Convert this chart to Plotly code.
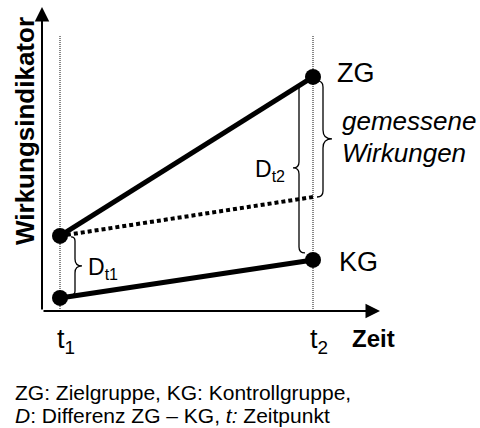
import plotly.graph_objects as go

# ---- data ----
times = [1, 2]
time_labels = ["t<sub>1</sub>", "t<sub>2</sub>"]
zg_values = [24.7, 77.0]          # Zielgruppe
kg_values = [4.3, 16.8]           # Kontrollgruppe
zg_expected = [24.7, 37.5]        # ZG ohne Maßnahme (kontrafaktisch)
y_label = "Wirkungsindikator"
x_label = "Zeit"
caption_lines = ["ZG: Zielgruppe, KG: Kontrollgruppe,",
                 "<i>D</i>: Differenz ZG – KG, <i>t:</i> Zeitpunkt"]

# ---- geometry (layout) ----
W, H = 480, 428
ML, MR, MT, MB = 42, 100, 7, 117
PW, PH = W - ML - MR, H - MT - MB
X_RANGE = [times[0] - 18 / 253, times[0] + 320 / 253]
Y_RANGE = [0, 100]
PX_X = PW / (X_RANGE[1] - X_RANGE[0])
PX_Y = PH / (Y_RANGE[1] - Y_RANGE[0])
GUIDE_TOP = 90.8

def dx(p):
    return p / PX_X

def dy(p):
    return p / PX_Y

def paper_x(p):
    return (p - ML) / PW

def paper_y(p):
    return (H - MB - p) / PH

FONT = "Arial, Liberation Sans, sans-serif"

fig = go.Figure()

# vertical guides
for t in times:
    fig.add_trace(go.Scatter(x=[t, t], y=[Y_RANGE[0], GUIDE_TOP], mode="lines",
                             line=dict(color="#111", width=1, dash="1px,1px"),
                             hoverinfo="skip", showlegend=False))

# expected line
fig.add_trace(go.Scatter(x=times, y=zg_expected, mode="lines",
                         line=dict(color="black", width=4, dash="4px,3px"),
                         showlegend=False))
# ZG and KG
for vals in (zg_values, kg_values):
    fig.add_trace(go.Scatter(x=times, y=vals, mode="lines+markers",
                             line=dict(color="black", width=5),
                             marker=dict(color="black", size=16),
                             cliponaxis=False, showlegend=False))


def brace(xv, ytop, ybot, s, re, rt):
    ym = (ytop + ybot) / 2
    p = []
    p.append(f"M{xv - s*dx(re)},{ytop}")
    p.append(f"Q{xv},{ytop} {xv},{ytop - dy(re)}")
    p.append(f"L{xv},{ym + dy(rt)}")
    p.append(f"Q{xv},{ym} {xv + s*dx(rt)},{ym}")
    p.append(f"Q{xv},{ym} {xv},{ym - dy(rt)}")
    p.append(f"L{xv},{ybot + dy(re)}")
    p.append(f"Q{xv},{ybot} {xv - s*dx(re)},{ybot}")
    return dict(type="path", path=" ".join(p), xref="x", yref="y",
                line=dict(color="black", width=1.3))

shapes = [
    brace(times[0] + dx(15), zg_values[0] - dy(1), kg_values[0] + dy(3), 1, 4, 7),
    brace(times[1] - dx(14), zg_values[1] - dy(6), kg_values[1] + dy(7), -1, 6, 6),
    brace(times[1] + dx(10), zg_values[1] - dy(4), zg_expected[1], 1, 6, 9),
]

ann = []
# axes arrows
ann.append(dict(x=1, y=0, xref="paper", yref="paper", ax=-PW, ay=0, text="",
                showarrow=True, arrowhead=2, arrowsize=1.45, arrowwidth=2, arrowcolor="black"))
ann.append(dict(x=0, y=1, xref="paper", yref="paper", ax=0, ay=PH, text="",
                showarrow=True, arrowhead=2, arrowsize=1.45, arrowwidth=2, arrowcolor="black"))

# group labels
ann.append(dict(x=times[1], y=zg_values[1], xref="x", yref="y", text="ZG", showarrow=False,
                xanchor="left", yanchor="middle", xshift=22, yshift=4,
                font=dict(family=FONT, size=27, color="black")))
ann.append(dict(x=times[1], y=kg_values[1], xref="x", yref="y", text="KG", showarrow=False,
                xanchor="left", yanchor="middle", xshift=24, yshift=-2,
                font=dict(family=FONT, size=27, color="black")))

# time labels
for t, lab in zip(times, time_labels):
    ann.append(dict(x=t, y=Y_RANGE[0], xref="x", yref="y", text=lab, showarrow=False,
                    xanchor="left", yanchor="middle", xshift=-5, yshift=-30,
                    font=dict(family=FONT, size=27, color="black")))
ann.append(dict(x=times[1], y=Y_RANGE[0], xref="x", yref="y", text=f"<b>{x_label}</b>",
                showarrow=False, xanchor="left", yanchor="middle", xshift=37, yshift=-27,
                font=dict(family=FONT, size=24, color="black")))

# differences
ann.append(dict(x=times[0], y=(zg_values[0] + kg_values[0]) / 2, xref="x", yref="y",
                text="D<sub>t1</sub>", showarrow=False, xanchor="left", yanchor="middle",
                xshift=26, yshift=-2, font=dict(family=FONT, size=23, color="black")))
ann.append(dict(x=times[1], y=(zg_values[1] + kg_values[1]) / 2, xref="x", yref="y",
                text="D<sub>t2</sub>", showarrow=False, xanchor="right", yanchor="middle",
                xshift=-26, yshift=-2, font=dict(family=FONT, size=23, color="black")))

# measured effects
mid = (zg_values[1] + zg_expected[1]) / 2
ann.append(dict(x=times[1], y=mid, xref="x", yref="y", text="<i>gemessene</i>",
                showarrow=False, xanchor="left", yanchor="middle", xshift=27, yshift=16,
                font=dict(family=FONT, size=26, color="black")))
ann.append(dict(x=times[1], y=mid, xref="x", yref="y", text="<i>Wirkungen</i>",
                showarrow=False, xanchor="left", yanchor="middle", xshift=27, yshift=-16,
                font=dict(family=FONT, size=26, color="black")))

# y label
ann.append(dict(x=paper_x(25), y=paper_y(131), xref="paper", yref="paper",
                text=f"<b>{y_label}</b>", textangle=-90, showarrow=False,
                xanchor="center", yanchor="middle",
                font=dict(family=FONT, size=26, color="black")))

# caption
for i, line in enumerate(caption_lines):
    ann.append(dict(x=paper_x(13), y=paper_y(392 + 23 * i), xref="paper", yref="paper",
                    text=line, showarrow=False, xanchor="left", yanchor="middle",
                    font=dict(family=FONT, size=21, color="black")))

fig.update_layout(
    width=W, height=H,
    margin=dict(l=ML, r=MR, t=MT, b=MB),
    paper_bgcolor="white", plot_bgcolor="white",
    xaxis=dict(range=X_RANGE, visible=False, fixedrange=True),
    yaxis=dict(range=Y_RANGE, visible=False, fixedrange=True),
    shapes=shapes, annotations=ann, showlegend=False,
)

fig.write_html("out.html", config={"displayModeBar": False},
               post_script="document.body.style.margin='0';document.body.style.overflow='hidden';")
